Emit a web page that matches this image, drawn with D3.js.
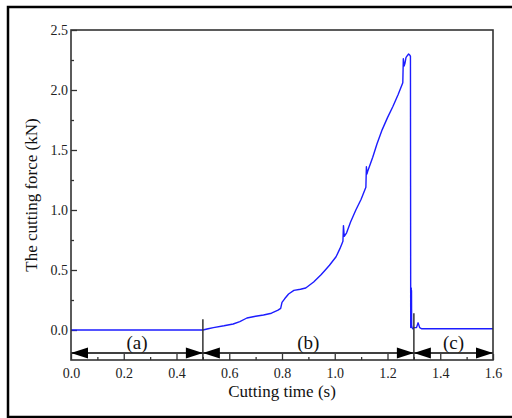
<!DOCTYPE html>
<meta charset="utf-8">
<style>
body { margin: 0; background: #fff; }
svg { display: block; font-family: "Liberation Serif", "Times New Roman", serif; }
.frame { fill: none; stroke: #000; stroke-width: 2.5px; }
.plotbox { fill: none; stroke: #333; stroke-width: 1.6px; }
.axis path { display: none; }
.axis line { stroke: #333; stroke-width: 1.3px; }
.axis text { font-size: 14px; fill: #222; font-family: "Liberation Serif", serif; }
.curve { fill: none; stroke: #1c1cff; stroke-width: 1.4px; stroke-linejoin: round; }
.divider { stroke: #333; stroke-width: 1.5px; }
.arrowline { stroke: #000; stroke-width: 1.3px; }
.phase { font-size: 19px; fill: #111; }
.title { font-size: 17px; fill: #111; }
</style>
<body>
<script src="https://d3js.org/d3.v7.min.js"></script>
<script>
// cutting time (s) and force (kN)
var time = [0, 0.1, 0.2, 0.3, 0.4, 0.5, 0.52, 0.54, 0.58, 0.615, 0.64, 0.667, 0.7, 0.73, 0.76, 0.785,
  0.795, 0.80, 0.81, 0.825, 0.845, 0.87, 0.89, 0.92, 0.948, 0.96, 0.98, 1.005, 1.02, 1.031, 1.033,
  1.036, 1.045, 1.06, 1.08, 1.10, 1.118, 1.120, 1.122, 1.126, 1.144, 1.16, 1.18, 1.20, 1.22, 1.24,
  1.258, 1.260, 1.263, 1.266, 1.270, 1.273, 1.28, 1.285, 1.287, 1.2875, 1.288, 1.289, 1.2895,
  1.290, 1.2905, 1.291, 1.2915, 1.293, 1.296, 1.30, 1.31, 1.316, 1.322, 1.33, 1.40, 1.50, 1.60];
var force = [0, 0, 0, 0, 0, 0, 0.01, 0.02, 0.035, 0.05, 0.07, 0.10, 0.115, 0.125, 0.14, 0.165,
  0.18, 0.23, 0.26, 0.30, 0.33, 0.34, 0.35, 0.40, 0.46, 0.49, 0.54, 0.61, 0.68, 0.74, 0.87,
  0.78, 0.81, 0.90, 1.00, 1.09, 1.19, 1.36, 1.30, 1.33, 1.44, 1.55, 1.67, 1.77, 1.86, 1.96,
  2.06, 2.26, 2.20, 2.22, 2.27, 2.28, 2.30, 2.29, 2.28, 1.2, 0.02, 0.30, 0.05,
  0.35, 0.10, 0.33, 0.04, 0.02, 0.01, 0.02, 0.02, 0.06, 0.02, 0.01, 0.01, 0.01, 0.01];

var xMajor = [0, 0.2, 0.4, 0.6, 0.8, 1.0, 1.2, 1.4, 1.6];
var xMinor = [0.1, 0.3, 0.5, 0.7, 0.9, 1.1, 1.3, 1.5];
var yMajor = [0, 0.5, 1.0, 1.5, 2.0, 2.5];
var yMinor = [0.25, 0.75, 1.25, 1.75, 2.25];

// stages of the cut
var stageBounds = [0, 0.5, 1.3, 1.6];
var stageLabels = ["(a)", "(b)", "(c)"];
var dividerTop = [0.09, 0.14];   // force level where the divider lines start

var width = 512, height = 418;
var margin = {left: 71, right: 19, top: 30, bottom: 58};

var x = d3.scaleLinear().domain([0, 1.6]).range([margin.left, width - margin.right]);
var y = d3.scaleLinear().domain([-0.25, 2.5]).range([height - margin.bottom, margin.top]);

var svg = d3.select("body").append("svg")
    .attr("width", width)
    .attr("height", height);

svg.append("rect")
    .attr("class", "frame")
    .attr("x", 8).attr("y", 7)
    .attr("width", 510).attr("height", 410);

// bottom axis, ticks pointing in
svg.append("g")
    .attr("class", "axis")
    .attr("transform", "translate(0," + y(-0.25) + ")")
    .call(d3.axisBottom(x).tickValues(xMajor).tickSize(-6).tickPadding(8)
      .tickFormat(d3.format(".1f")));
svg.append("g")
    .attr("class", "axis")
    .attr("transform", "translate(0," + y(-0.25) + ")")
    .call(d3.axisBottom(x).tickValues(xMinor).tickSize(-3).tickFormat(""));

svg.append("g")
    .attr("class", "axis")
    .attr("transform", "translate(" + x(0) + ",0)")
    .call(d3.axisLeft(y).tickValues(yMajor).tickSize(-6).tickPadding(3)
      .tickFormat(d3.format(".1f")));
svg.append("g")
    .attr("class", "axis")
    .attr("transform", "translate(" + x(0) + ",0)")
    .call(d3.axisLeft(y).tickValues(yMinor).tickSize(-3).tickFormat(""));

// the curve
var pts = d3.zip(time, force);
var line = d3.line()
    .x(function(d) { return x(d[0]); })
    .y(function(d) { return y(d[1]); });

svg.append("path")
    .attr("class", "curve")
    .attr("d", line(pts));

// stage arrows
var arrowY = y(-0.25) - 7;
svg.append("line")
    .attr("class", "arrowline")
    .attr("x1", x(0)).attr("x2", x(1.6))
    .attr("y1", arrowY).attr("y2", arrowY);

function head(tip, dir) {
  var len = 17, hw = 5.5;
  return "M" + tip + "," + arrowY +
    "L" + (tip + dir * len) + "," + (arrowY - hw) +
    "L" + (tip + dir * len) + "," + (arrowY + hw) + "Z";
}

stageLabels.forEach(function(lbl, i) {
  var a = stageBounds[i], b = stageBounds[i + 1];
  svg.append("path").attr("d", head(x(a), 1)).attr("fill", "#000");
  svg.append("path").attr("d", head(x(b), -1)).attr("fill", "#000");
  svg.append("text")
      .attr("class", "phase")
      .attr("x", x((a + b) / 2))
      .attr("y", arrowY - 4)
      .attr("text-anchor", "middle")
      .text(lbl);
});

stageBounds.slice(1, 3).forEach(function(t, i) {
  svg.append("line")
      .attr("class", "divider")
      .attr("x1", x(t)).attr("x2", x(t))
      .attr("y1", y(dividerTop[i])).attr("y2", y(-0.25));
});

svg.append("rect")
    .attr("class", "plotbox")
    .attr("x", x(0)).attr("y", y(2.5))
    .attr("width", x(1.6) - x(0))
    .attr("height", y(-0.25) - y(2.5));

svg.append("text")
    .attr("class", "title")
    .attr("x", (x(0) + x(1.6)) / 2)
    .attr("y", 397)
    .attr("text-anchor", "middle")
    .text("Cutting time (s)");

svg.append("text")
    .attr("class", "title")
    .attr("transform", "translate(37," + ((y(2.5) + y(-0.25)) / 2) + ") rotate(-90)")
    .attr("text-anchor", "middle")
    .text("The cutting force (kN)");
</script>
